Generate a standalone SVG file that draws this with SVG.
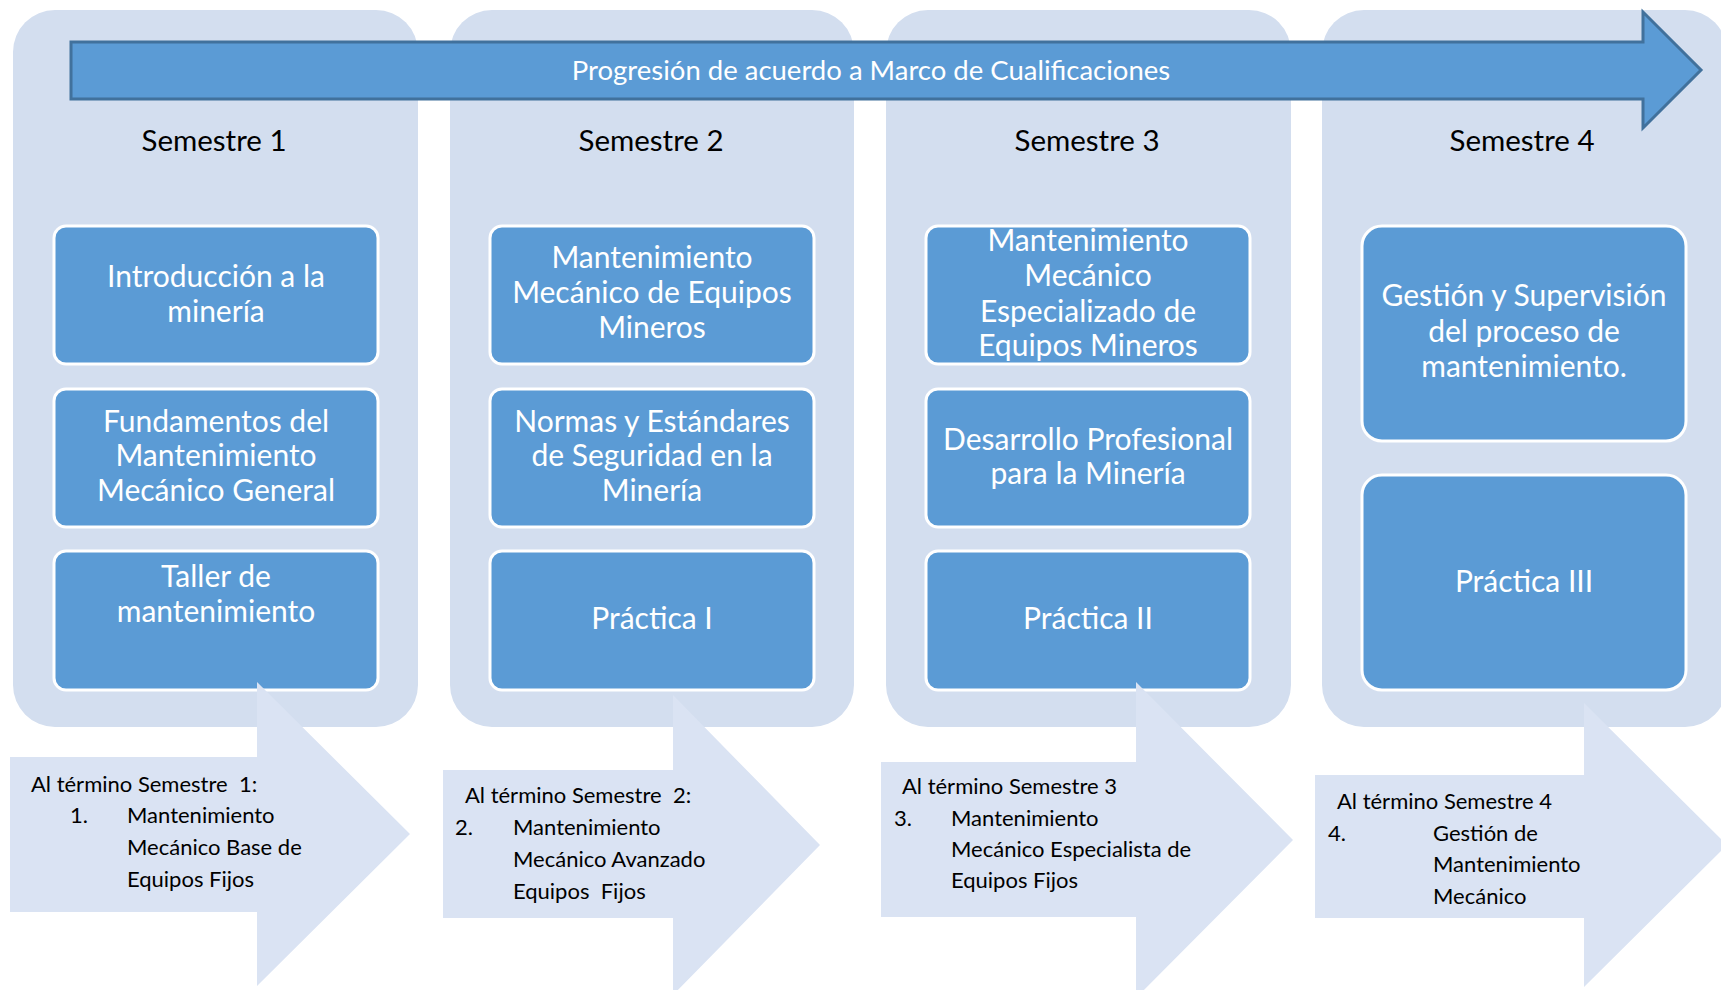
<svg xmlns="http://www.w3.org/2000/svg" width="1721" height="990" viewBox="0 0 1721 990">
<style>
.panel{fill:#D3DEEF}
.box{fill:#5B9BD5;stroke:#FFFFFF;stroke-width:3}
.banner{fill:#5B9BD5;stroke:#41719C;stroke-width:3}
.out{fill:#DAE3F3}
text{font-family:Lato,"Liberation Sans",sans-serif}
.btxt{fill:#FFFFFF;font-size:30px;text-anchor:middle}
.ttl{fill:#FFFFFF;font-size:27.5px;text-anchor:middle}
.sem{fill:#000000;font-size:29.5px;text-anchor:middle}
.otxt{fill:#000000;font-size:22px}
</style>
<g id="panels">
<rect id="panel-1" class="panel" x="13" y="10" width="405" height="717" rx="42"/>
<rect id="panel-2" class="panel" x="450" y="10" width="404" height="717" rx="42"/>
<rect id="panel-3" class="panel" x="886" y="10" width="405" height="717" rx="42"/>
<rect id="panel-4" class="panel" x="1322" y="10" width="405" height="717" rx="42"/>
</g>
<g id="banner">
<path class="banner" d="M71,42 H1643 V12 L1701,70 L1643,128 V99 H71 Z"/>
<text class="ttl" x="871" y="80">Progresión de acuerdo a Marco de Cualificaciones</text>
</g>
<g id="semester-labels">
<text class="sem" x="214" y="151">Semestre 1</text>
<text class="sem" x="651" y="151">Semestre 2</text>
<text class="sem" x="1087" y="151">Semestre 3</text>
<text class="sem" x="1522" y="151">Semestre 4</text>
</g>
<g id="s1-box1">
<rect class="box" x="54" y="226" width="324" height="138" rx="12"/>
<text class="btxt" x="216" y="287">Introducción a la<tspan x="216" y="322">minería</tspan></text>
</g>
<g id="s1-box2">
<rect class="box" x="54" y="389" width="324" height="138" rx="12"/>
<text class="btxt" x="216" y="432">Fundamentos del<tspan x="216" y="466">Mantenimiento</tspan><tspan x="216" y="501">Mecánico General</tspan></text>
</g>
<g id="s1-box3">
<rect class="box" x="54" y="551" width="324" height="139" rx="12"/>
<text class="btxt" x="216" y="587">Taller de<tspan x="216" y="622">mantenimiento</tspan></text>
</g>
<g id="s2-box1">
<rect class="box" x="490" y="226" width="324" height="138" rx="12"/>
<text class="btxt" x="652" y="268">Mantenimiento<tspan x="652" y="303">Mecánico de Equipos</tspan><tspan x="652" y="338">Mineros</tspan></text>
</g>
<g id="s2-box2">
<rect class="box" x="490" y="389" width="324" height="138" rx="12"/>
<text class="btxt" x="652" y="432">Normas y Estándares<tspan x="652" y="466">de Seguridad en la</tspan><tspan x="652" y="501">Minería</tspan></text>
</g>
<g id="s2-box3">
<rect class="box" x="490" y="551" width="324" height="139" rx="12"/>
<text class="btxt" x="652" y="629">Práctica I</text>
</g>
<g id="s3-box1">
<rect class="box" x="926" y="226" width="324" height="138" rx="12"/>
<text class="btxt" x="1088" y="251">Mantenimiento<tspan x="1088" y="286">Mecánico</tspan><tspan x="1088" y="322">Especializado de</tspan><tspan x="1088" y="356">Equipos Mineros</tspan></text>
</g>
<g id="s3-box2">
<rect class="box" x="926" y="389" width="324" height="138" rx="12"/>
<text class="btxt" x="1088" y="450">Desarrollo Profesional<tspan x="1088" y="484">para la Minería</tspan></text>
</g>
<g id="s3-box3">
<rect class="box" x="926" y="551" width="324" height="139" rx="12"/>
<text class="btxt" x="1088" y="629">Práctica II</text>
</g>
<g id="s4-box1">
<rect class="box" x="1362" y="226" width="324" height="215" rx="20"/>
<text class="btxt" x="1524" y="306">Gestión y Supervisión<tspan x="1524" y="342">del proceso de</tspan><tspan x="1524" y="377">mantenimiento.</tspan></text>
</g>
<g id="s4-box2">
<rect class="box" x="1362" y="475" width="324" height="215" rx="20"/>
<text class="btxt" x="1524" y="592">Práctica III</text>
</g>
<g id="outcomes">
<g id="outcome-1">
<path class="out" d="M10,757 H257 V682 L410,834 L257,986 V912 H10 Z"/>
<text class="otxt" xml:space="preserve" x="31" y="792">Al término Semestre  1:</text>
<text class="otxt" x="70" y="823">1.</text>
<text class="otxt" x="127" y="823">Mantenimiento<tspan x="127" y="855">Mecánico Base de</tspan><tspan x="127" y="887">Equipos Fijos</tspan></text>
</g>
<g id="outcome-2">
<path class="out" d="M443,770 H673 V695 L820,845 L673,995 V918 H443 Z"/>
<text class="otxt" xml:space="preserve" x="465" y="803">Al término Semestre  2:</text>
<text class="otxt" x="455" y="835">2.</text>
<text class="otxt" xml:space="preserve" x="513" y="835">Mantenimiento<tspan x="513" y="867">Mecánico Avanzado</tspan><tspan x="513" y="899">Equipos  Fijos</tspan></text>
</g>
<g id="outcome-3">
<path class="out" d="M881,762 H1136 V682 L1293,840 L1136,998 V917 H881 Z"/>
<text class="otxt" x="902" y="794">Al término Semestre 3</text>
<text class="otxt" x="894" y="826">3.</text>
<text class="otxt" x="951" y="826">Mantenimiento<tspan x="951" y="857">Mecánico Especialista de</tspan><tspan x="951" y="888">Equipos Fijos</tspan></text>
</g>
<g id="outcome-4">
<path class="out" d="M1315,775 H1584 V703 L1727,845 L1584,987 V918 H1315 Z"/>
<text class="otxt" x="1337" y="809">Al término Semestre 4</text>
<text class="otxt" x="1328" y="841">4.</text>
<text class="otxt" x="1433" y="841">Gestión de<tspan x="1433" y="872">Mantenimiento</tspan><tspan x="1433" y="904">Mecánico</tspan></text>
</g>
</g>
</svg>
